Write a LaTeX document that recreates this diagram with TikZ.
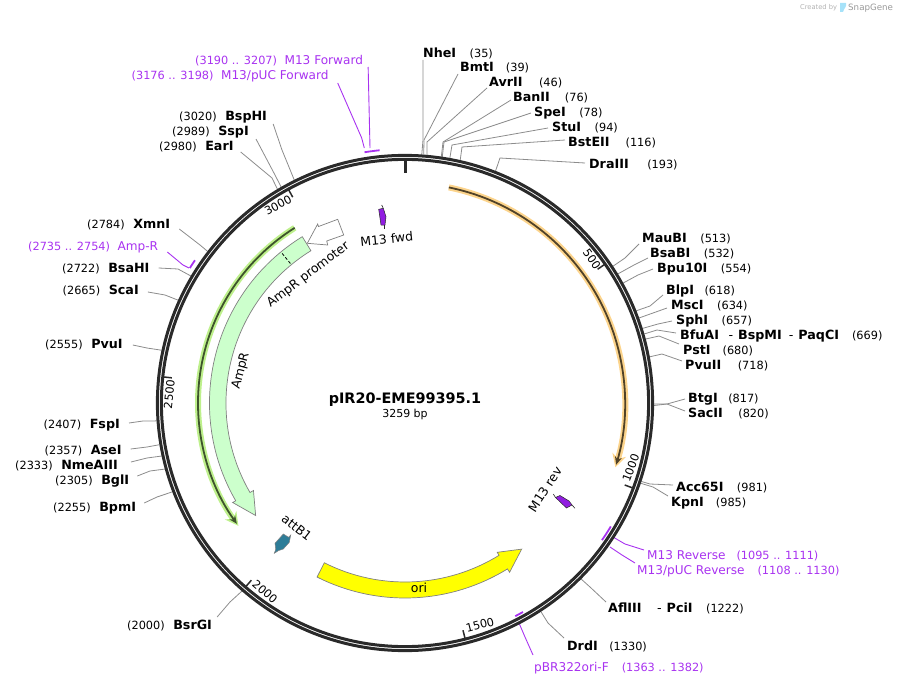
\documentclass[tikz,border=0pt]{standalone}
\usepackage{fontspec}
\setmainfont{DejaVu Sans}
\usepackage{xcolor}
\usepackage{tikz}
\usetikzlibrary{arrows.meta,calc}
\definecolor{ringdark}{RGB}{42,42,42}
\definecolor{leadergray}{RGB}{140,140,140}
\definecolor{primerpurple}{RGB}{168,50,240}
\definecolor{m13purple}{RGB}{145,30,225}
\definecolor{amprgreen}{RGB}{204,255,204}
\definecolor{glowgreen}{RGB}{190,240,140}
\definecolor{glowdarkgreen}{RGB}{62,84,44}
\definecolor{gloworange}{RGB}{252,212,140}
\definecolor{glowdarkorange}{RGB}{80,66,40}
\definecolor{oriyellow}{RGB}{255,255,0}
\definecolor{attteal}{RGB}{46,125,152}
\newcommand{\namesize}{\fontsize{12.7}{15}\selectfont}
\newcommand{\numsize}{\fontsize{11.3}{15}\selectfont}
\newcommand{\sitedash}{\hspace{9.5pt}{\mdseries -}\hspace{5pt}}
\tikzset{
    site/.style={anchor=west, inner sep=0pt, yshift=-1pt, font=\namesize},
    primer/.style={anchor=west, inner sep=0pt, yshift=-1pt, text=primerpurple, font=\fontsize{12.1}{15}\selectfont},
    leader/.style={draw=leadergray, line width=0.8pt},
    primerline/.style={draw=primerpurple, line width=0.9pt},
    primerbar/.style={draw=primerpurple, line width=1.8pt},
    ringline/.style={draw=ringdark, line width=3pt},
    tickline/.style={draw=ringdark, line width=1.5pt},
    ticktext/.style={inner sep=0pt, font=\numsize},
    featuretext/.style={inner sep=0pt, font=\fontsize{12.5}{15}\selectfont},
    feature/.style={draw=gray, line width=0.7pt, line join=miter}
}

\begin{document}
\begin{tikzpicture}[x=1pt, y=-1pt]
    \useasboundingbox (0,0) rectangle (897,685);
    \coordinate (ctr) at (405,403);
    % Watermark
    \node[inner sep=0pt, anchor=west, text=black!30, font=\fontsize{6.7}{8}\selectfont] (created) at (800,8) {Created by};
    \fill[cyan!35] (840,3) -- (846,3) .. controls (847,7) and (844,8) .. (843,12) -- (840,12) -- cycle;
    \node[inner sep=0pt, anchor=west, text=black!40, font=\fontsize{8.7}{10}\selectfont] (snapgene) at (848,8) {SnapGene};
    % Sites - labels on the right, name then position
    \foreach \nm/\lx/\ly/\lab/\bp/\off/\elb in {
        nhei/423/52/NheI/35/{0,7}/{423,140},
        bmti/460/67/{BmtI\kern-1.5pt}/39/{-2,6}/{424,140},
        avrii/489/82/{AvrII\kern3pt}/46/{-2,5}/{427,142},
        banii/513/97/{BanII\kern1.5pt}/76/{-2,2}/{443,142},
        spei/534/112/SpeI/78/{-3,0}/{444,142},
        stui/552/127/StuI/94/{-4,0}/{452,145},
        bsteii/568/142/{BstEII\kern2.5pt}/116/{-3,-3}/{462,147},
        draiii/589/164/{DraIII\kern5pt}/193/{-4,-2}/{500,158},
        maubi/642/238/MauBI/513/{-3,5}/{625,258},
        bsabi/650/253/BsaBI/532/{-2,4}/{634,265},
        bpuxi/657/268/Bpu10I/554/{-4,0}/{638,275},
        blpi/666/290/{BlpI\kern-3pt}/618/{-3,4}/{650,306},
        msci/671/305/MscI/634/{-4,2}/{653,313},
        sphi/676/320/SphI/657/{-4,0}/{658,324},
        bfuai/680/335/{BfuAI\sitedash BspMI\kern-2.5pt\sitedash PaqCI\kern-0.5pt}/669/{-4,-3}/{657,330},
        psti/683/350/{PstI\kern-1.5pt}/680/{-4,-7}/{659,336},
        pvuii/685/365/{PvuII\kern3pt}/718/{-3,-5}/{662,354},
        btgi/688/398/{BtgI\kern-3pt}/817/{-3,0}/{667,404},
        sacii/688/413/{SacII\kern2pt}/820/{-3,-3}/{667,404},
        acci/676/487/Acc65I/981/{-3,-3}/{650,484},
        kpni/671/502/{KpnI\kern-1.5pt}/985/{-3,-7}/{653,487},
        afliii/608/607/{AflIII\kern6pt\sitedash PciI}/1222/{-2,-6}/{590,587},
        drdi/567/645/{DrdI\kern-2pt}/1330/{-3,-8}/{548,623}}
    {
        \node[site] (\nm) at (\lx,\ly) {\textbf{\lab}\hspace{13.5pt}{\numsize(\bp)}};
        \coordinate (\nm end) at ($(ctr)+(\bp/3259*360-90:249)$);
        \draw[leader] ($(\nm.west)+(\off)$) -- (\elb) -- (\nm end);
    }
    % Sites - labels on the left, position then name
    \foreach \nm/\lx/\ly/\lab/\bp/\off/\elb in {
        bsphi/179/116/BspHI/3020/{6,7}/{282,150},
        sspi/172/131/SspI/2989/{7,7}/{275,175},
        eari/159/146/EarI/2980/{7,5}/{272,178},
        xmni/87/224/XmnI/2784/{9,4}/{200,245},
        bsahi/62/268/BsaHI/2722/{9,-1}/{178,269},
        scai/62.5/290/ScaI/2665/{9,1}/{165,295},
        pvui/45/344/PvuI/2555/{10,0}/{147,348},
        fspi/43.5/424/FspI/2407/{9,-2}/{143,421},
        asei/44.5/450/AseI/2357/{9,-2}/{147,447},
        nmeaiii/15/465/NmeAIII/2333/{13,-4}/{147,458},
        bgli/55/480/BglI/2305/{8,-5}/{150,471},
        bpmi/53/507/BpmI/2255/{8,-5}/{157,497},
        bsrgi/127/625/BsrGI/2000/{5,-9}/{230,602}}
    {
        \node[site] (\nm) at (\lx,\ly) {{\numsize(\bp)}\hspace{8.5pt}\textbf{\lab}};
        \coordinate (\nm end) at ($(ctr)+(\bp/3259*360-90:249)$);
        \draw[leader] ($(\nm.east)+(\off)$) -- (\elb) -- (\nm end);
    }
    % Primers - labels and leaders
    \node[primer] (mfwd) at (195,60) {{\numsize(3190 .. 3207)}\hspace{7.5pt}M13 Forward};
    \node[primer] (pucfwd) at (131.5,75) {{\numsize(3176 .. 3198)}\hspace{7.5pt}M13/pUC Forward};
    \node[primer] (amprp) at (28,246) {{\numsize(2735 .. 2754)}\hspace{7.5pt}Amp-R};
    \node[primer] (mrev) at (647,555) {M13 Reverse\hspace{11pt}{\numsize(1095 .. 1111)}};
    \node[primer] (pucrev) at (637,570) {M13/pUC Reverse\hspace{13pt}{\numsize(1108 .. 1130)}};
    \node[primer] (pbr) at (534,667) {pBR322ori-F\hspace{13pt}{\numsize(1363 .. 1382)}};
    \coordinate (mfwdend) at (370,148);
    \coordinate (pucfwdend) at (364.3,148);
    \coordinate (amprpend) at (189,268);
    \coordinate (mrevend) at (613,537);
    \coordinate (pucrevend) at (610,547);
    \coordinate (pbrend) at (519,623);
    \draw[primerline] ($(mfwd.east)+(5,6)$) -- (mfwdend);
    \draw[primerline] ($(pucfwd.east)+(9,7)$) -- (361.7,138) -- (pucfwdend);
    \draw[primerline] ($(amprp.east)+(9,5)$) -- (183,265) -- (amprpend);
    \draw[primerline] ($(mrev.west)+(-3,-6)$) -- (625,544) -- (mrevend);
    \draw[primerline] ($(pucrev.west)+(-2,-8)$) -- (622,555) -- (pucrevend);
    \draw[primerline] ($(pbr.west)+(-1,-13)$) -- (525,637) -- (pbrend);
    % Backbone
    \draw[ringline] (ctr) circle (247.6);
    \draw[ringline] (ctr) circle (243.6);
    \begin{scope}[shift={(405,403)}]
        % Ticks
        \draw[draw=ringdark, line width=3pt] (-90:245) -- (-90:230.5);
        \foreach \bp in {500,1000,1500,2000,2500,3000} {
            \draw[tickline] (\bp/3259*360-90:243) -- (\bp/3259*360-90:234.5);
        }
        % Primer bars
        \draw[primerbar] (260.83:254) arc[start angle=260.83, end angle=264.26, radius=254];
        \draw[primerbar] (212.1:254) arc[start angle=212.1, end angle=214.2, radius=254];
        \draw[primerbar] (30.96:240) arc[start angle=30.96, end angle=34.84, radius=240];
        \draw[primerbar] (60.56:240) arc[start angle=60.56, end angle=62.66, radius=240];
        % Orange and green thin arcs
        \draw[gloworange, line width=6pt, -{Stealth[length=13pt, width=14pt]}] (-78.5:220) arc[start angle=-78.5, end angle=17, radius=220];
        \draw[glowdarkorange, line width=1.8pt, -{Stealth[length=8pt, width=7pt]}] (-78.5:220) arc[start angle=-78.5, end angle=16.3, radius=220];
        \draw[glowgreen, line width=6pt, -{Stealth[length=13pt, width=14pt]}] (237.8:207) arc[start angle=237.8, end angle=143.6, radius=207];
        \draw[glowdarkgreen, line width=1.8pt, -{Stealth[length=8pt, width=7pt]}] (237.8:207) arc[start angle=237.8, end angle=144.3, radius=207];
        % AmpR and ori
        \draw[feature, fill=amprgreen] (238.3:195.5) arc[start angle=238.3, end angle=150, radius=195.5]
            -- (150:199) -- (143:187) -- (150:175) -- (150:179)
            arc[start angle=150, end angle=238.3, radius=179] -- cycle;
        \draw[densely dashed, line width=0.8pt] (230.6:180.5) -- (230.6:194.4);
        \draw[feature, fill=oriyellow] (116.8:195) arc[start angle=116.8, end angle=58.3, radius=195]
            -- (58.3:199) -- (51.4:187) -- (58.3:175.5) -- (58.3:179)
            arc[start angle=58.3, end angle=116.8, radius=179] -- cycle;
    \end{scope}
    % Small features
    \draw[feature, fill=white] (307.3,243.3) -- (317.7,224) -- (318.5,226.5) -- (337.7,219.3) -- (343.7,235) -- (326.7,241) -- (327.7,245) -- cycle;
    \filldraw[fill=m13purple, draw=ringdark, line width=0.5pt] (378.7,209.3) -- (383.3,208.3) -- (386,216.7) -- (385,225) -- (381,225) -- cycle;
    \draw[ringdark, line width=0.6pt] (381.7,205) -- (383.3,208.3);
    \draw[ringdark, line width=0.6pt] (384.2,225) -- (384.2,229);
    \filldraw[fill=m13purple, draw=ringdark, line width=0.5pt] (555.5,497.5) -- (560,495.5) -- (569,501) -- (572,505) -- (566.5,508) -- cycle;
    \draw[ringdark, line width=0.6pt] (553.3,494) -- (555.5,497.5);
    \draw[ringdark, line width=0.6pt] (572,505) -- (575,508.3);
    \filldraw[fill=attteal, draw=gray, line width=0.5pt] (275,543.3) -- (283.3,534) -- (288.7,537.3) -- (290.7,535) -- (289.3,542.3) -- (283.3,549) -- (278.3,550.7) -- (274.3,553.3) -- (275.7,549.3) -- cycle;
    % Tick labels
    \node[ticktext, rotate=-55.2] (lab500) at (592,259) {500};
    \node[ticktext, rotate=69.5] (lab1000) at (630.7,468) {1000};
    \node[ticktext, rotate=14.3] (lab1500) at (480,625) {1500};
    \node[ticktext, rotate=-40.9] (lab2000) at (265,591.7) {2000};
    \node[ticktext, rotate=84] (lab2500) at (169.3,394.3) {2500};
    \node[ticktext, rotate=28.6] (lab3000) at (278,205) {3000};
    % Feature labels
    \node[featuretext, rotate=6] (m13fwdlab) at (386.7,239) {M13 fwd};
    \node[featuretext, rotate=37] (promlab) at (308.3,275) {AmpR promoter};
    \node[featuretext, rotate=75] (amprlab) at (241,371) {AmpR};
    \node[featuretext, rotate=-38] (attlab) at (296.7,527.3) {attB1};
    \node[featuretext] (orilab) at (419,588.3) {ori};
    \node[featuretext, rotate=57] (m13revlab) at (545,489.3) {M13 rev};
    % Title
    \node[inner sep=0pt, font=\fontsize{14.4}{18}\selectfont\bfseries] (title) at (405,399.5) {pIR20-EME99395.1};
    \node[inner sep=0pt, font=\fontsize{11}{13}\selectfont] (length) at (405,414) {3259 bp};
\end{tikzpicture}
\end{document}
